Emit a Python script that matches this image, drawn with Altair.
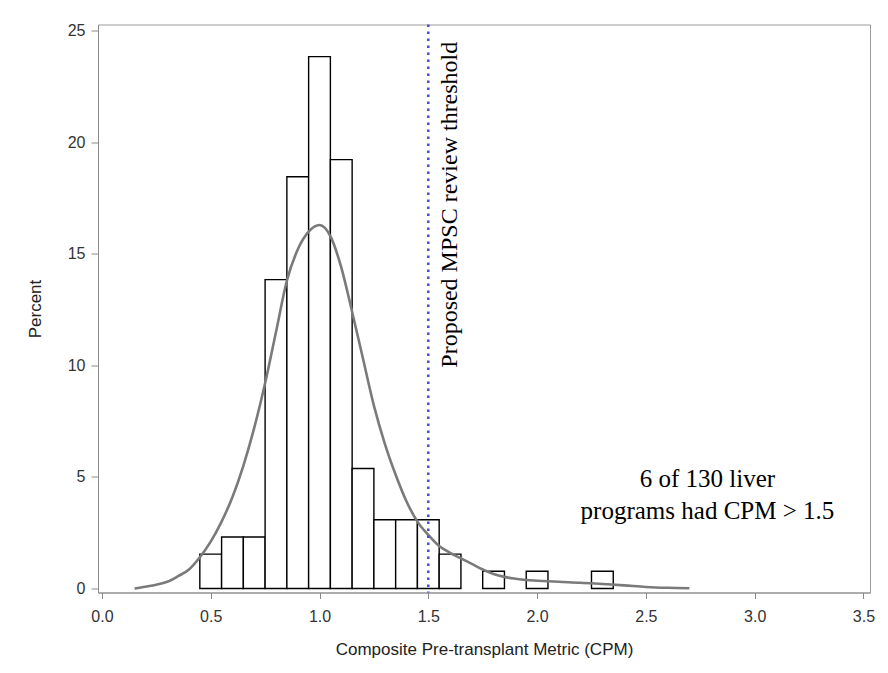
import altair as alt
import pandas as pd

# Histogram bins (midpoints, width 0.1) and percent of programs
bar_mid = [0.5, 0.6, 0.7, 0.8, 0.9, 1.0, 1.1, 1.2, 1.3, 1.4, 1.5, 1.6, 1.8, 2.0, 2.3]
bar_pct = [1.54, 2.31, 2.31, 13.85, 18.46, 23.85, 19.23, 5.38, 3.08, 3.08, 3.08, 1.54, 0.77, 0.77, 0.77]
bin_width = 0.1

# Kernel density curve
kde_x = [0.15, 0.2, 0.25, 0.3, 0.35, 0.4, 0.45, 0.5, 0.55, 0.6, 0.65, 0.7, 0.75, 0.8, 0.85,
         0.9, 0.95, 1.0, 1.05, 1.1, 1.15, 1.2, 1.25, 1.3, 1.35, 1.4, 1.45, 1.5, 1.55, 1.6,
         1.65, 1.7, 1.75, 1.8, 1.85, 1.9, 1.95, 2.0, 2.1, 2.2, 2.3, 2.4, 2.5, 2.6, 2.7]
kde_y = [0.0, 0.08, 0.17, 0.3, 0.55, 0.85, 1.4, 2.1, 3.0, 4.1, 5.5, 7.2, 9.2, 11.5, 13.8,
         15.2, 16.0, 16.3, 15.8, 14.4, 12.4, 10.3, 8.2, 6.5, 5.1, 3.9, 3.0, 2.4, 1.9, 1.6,
         1.35, 1.1, 0.85, 0.65, 0.52, 0.44, 0.38, 0.35, 0.3, 0.26, 0.2, 0.14, 0.07, 0.03, 0.01]

threshold = 1.5
x_ticks = [0.0, 0.5, 1.0, 1.5, 2.0, 2.5, 3.0, 3.5]
y_ticks = [0, 5, 10, 15, 20, 25]

bars_df = pd.DataFrame({"mid": bar_mid, "pct": bar_pct})
kde_df = pd.DataFrame({"x": kde_x, "y": kde_y})

xscale = alt.Scale(domain=[-0.018, 3.53], nice=False, zero=False)
yscale = alt.Scale(domain=[-0.18, 25.29], nice=False, zero=False)

xaxis = alt.Axis(values=x_ticks, format=".1f", title="Composite Pre-transplant Metric (CPM)",
                 grid=False, tickSize=6, labelPadding=10, titleY=62, titleBaseline="alphabetic")
yaxis = alt.Axis(values=y_ticks, title="Percent", grid=False, tickSize=7, labelPadding=6,
                 titleX=-54, titleY=284)

bars = alt.Chart(bars_df).transform_calculate(
    lo=f"datum.mid - {bin_width}/2", hi=f"datum.mid + {bin_width}/2", base="0"
).mark_rect(fill="white", stroke="black", strokeWidth=1.4).encode(
    x=alt.X("lo:Q", scale=xscale, axis=xaxis),
    x2="hi:Q",
    y=alt.Y("pct:Q", scale=yscale, axis=yaxis),
    y2="base:Q",
)

curve = alt.Chart(kde_df).mark_line(color="#7a7a7a", strokeWidth=2.6, interpolate="monotone").encode(
    x=alt.X("x:Q", scale=xscale),
    y=alt.Y("y:Q", scale=yscale),
)

rule = alt.Chart(pd.DataFrame({"t": [threshold]})).mark_rule(
    color="#4a4ad8", strokeWidth=2.5, strokeDash=[2.5, 4.5]
).encode(x=alt.X("t:Q", scale=xscale))

label_v = alt.Chart(pd.DataFrame({"t": ["Proposed MPSC review threshold"]})).mark_text(
    angle=270, align="left", baseline="alphabetic", font="Liberation Serif", fontSize=24, color="black"
).encode(x=alt.datum(1.63), y=alt.datum(9.9), text="t:N")

note = alt.Chart(pd.DataFrame({"t": [["6 of 130 liver", "programs had CPM > 1.5"]]})).mark_text(
    align="center", baseline="alphabetic", font="Liberation Serif", fontSize=25, lineHeight=32, color="black"
).encode(x=alt.datum(2.783), y=alt.datum(4.57), text="t")

chart = alt.layer(bars, curve, rule, label_v, note).properties(
    width=772, height=568,
    autosize=alt.AutoSizeParams(type="none"),
    padding={"left": 90, "top": 16.5, "right": 10, "bottom": 70},
).configure_view(
    stroke="#9a9a9a", strokeWidth=1
).configure_axis(
    domainColor="#8a8a8a", tickColor="#8a8a8a", labelColor="#333333", titleColor="#222222",
    labelFont="Liberation Sans", titleFont="Liberation Sans", labelFontSize=16, titleFontSize=17,
    titleFontWeight="normal"
)

chart.save("out.html", embed_options={"renderer": "svg", "actions": False})
